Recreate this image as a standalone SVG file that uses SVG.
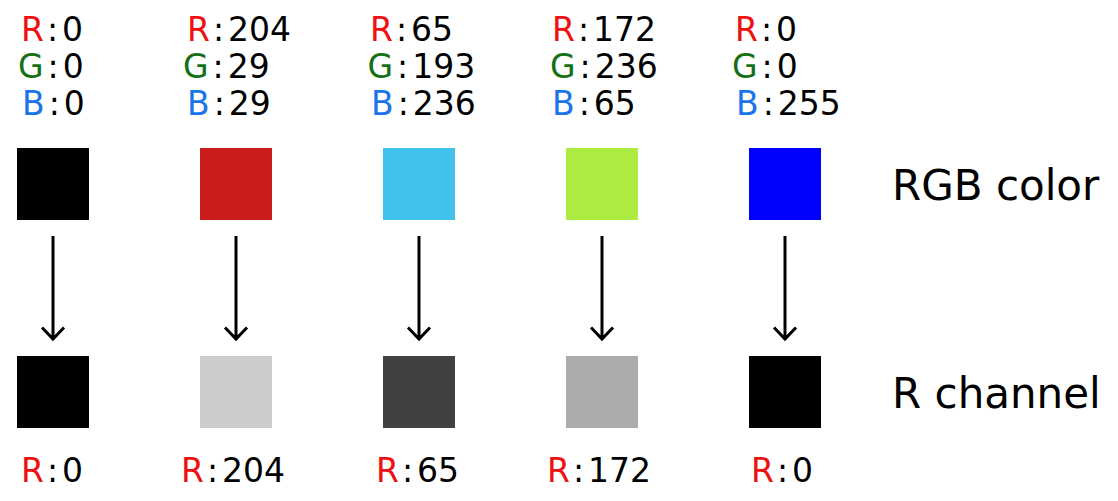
<svg xmlns="http://www.w3.org/2000/svg" width="1118" height="501" viewBox="0 0 1118 501">
<defs>
<style>
text{font-family:"DejaVu Sans","Verdana",sans-serif;font-size:33px;fill:#000}
.r{fill:#ee1111}
.g{fill:#157015}
.b{fill:#1a74ea}
.lab{font-size:42px}
.arr{stroke:#000;stroke-width:3;fill:none}
</style>
</defs>
<rect width="1118" height="501" fill="#fff"/>
<g id="col1">
<text x="21" y="41"><tspan class="r">R</tspan><tspan dx="4">:</tspan><tspan dx="4">0</tspan></text>
<text x="18" y="78"><tspan class="g">G</tspan><tspan dx="4">:</tspan><tspan dx="4">0</tspan></text>
<text x="22" y="115"><tspan class="b">B</tspan><tspan dx="4">:</tspan><tspan dx="4">0</tspan></text>
<rect x="17" y="148" width="72" height="72" fill="#000"/>
<rect x="17" y="356" width="72" height="72" fill="#000"/>
<text x="21" y="482"><tspan class="r">R</tspan><tspan dx="4">:</tspan><tspan dx="4">0</tspan></text>
</g>
<g id="col2">
<text x="187" y="41"><tspan class="r">R</tspan><tspan dx="4">:</tspan><tspan dx="4">204</tspan></text>
<text x="183" y="78"><tspan class="g">G</tspan><tspan dx="4">:</tspan><tspan dx="4">29</tspan></text>
<text x="187" y="115"><tspan class="b">B</tspan><tspan dx="4">:</tspan><tspan dx="4">29</tspan></text>
<rect x="200" y="148" width="72" height="72" fill="#cc1d1d"/>
<rect x="200" y="356" width="72" height="72" fill="#cccccc"/>
<text x="181" y="482"><tspan class="r">R</tspan><tspan dx="4">:</tspan><tspan dx="4">204</tspan></text>
</g>
<g id="col3">
<text x="370" y="41"><tspan class="r">R</tspan><tspan dx="4">:</tspan><tspan dx="4">65</tspan></text>
<text x="367.5" y="78"><tspan class="g">G</tspan><tspan dx="4">:</tspan><tspan dx="4">193</tspan></text>
<text x="371" y="115"><tspan class="b">B</tspan><tspan dx="4">:</tspan><tspan dx="4">236</tspan></text>
<rect x="383" y="148" width="72" height="72" fill="#41c1ec"/>
<rect x="383" y="356" width="72" height="72" fill="#414141"/>
<text x="376" y="482"><tspan class="r">R</tspan><tspan dx="4">:</tspan><tspan dx="4">65</tspan></text>
</g>
<g id="col4">
<text x="552" y="41"><tspan class="r">R</tspan><tspan dx="4">:</tspan><tspan dx="4">172</tspan></text>
<text x="550" y="78"><tspan class="g">G</tspan><tspan dx="4">:</tspan><tspan dx="4">236</tspan></text>
<text x="552" y="115"><tspan class="b">B</tspan><tspan dx="4">:</tspan><tspan dx="4">65</tspan></text>
<rect x="566" y="148" width="72" height="72" fill="#acec41"/>
<rect x="566" y="356" width="72" height="72" fill="#acacac"/>
<text x="547" y="482"><tspan class="r">R</tspan><tspan dx="4">:</tspan><tspan dx="4">172</tspan></text>
</g>
<g id="col5">
<text x="735" y="41"><tspan class="r">R</tspan><tspan dx="4">:</tspan><tspan dx="4">0</tspan></text>
<text x="732" y="78"><tspan class="g">G</tspan><tspan dx="4">:</tspan><tspan dx="4">0</tspan></text>
<text x="736" y="115"><tspan class="b">B</tspan><tspan dx="4">:</tspan><tspan dx="4">255</tspan></text>
<rect x="749" y="148" width="72" height="72" fill="#0000ff"/>
<rect x="749" y="356" width="72" height="72" fill="#000"/>
<text x="751" y="482"><tspan class="r">R</tspan><tspan dx="4">:</tspan><tspan dx="4">0</tspan></text>
</g>
<g id="labels">
<text class="lab" x="892" y="200">RGB color</text>
<text class="lab" x="892" y="408">R channel</text>
</g>
<g id="connectors" class="arr">
<path d="M53 236V339M42 327.5L53 339L64 327.5"/>
<path d="M236 236V339M225 327.5L236 339L247 327.5"/>
<path d="M419 236V339M408 327.5L419 339L430 327.5"/>
<path d="M602 236V339M591 327.5L602 339L613 327.5"/>
<path d="M785 236V339M774 327.5L785 339L796 327.5"/>
</g>
</svg>
